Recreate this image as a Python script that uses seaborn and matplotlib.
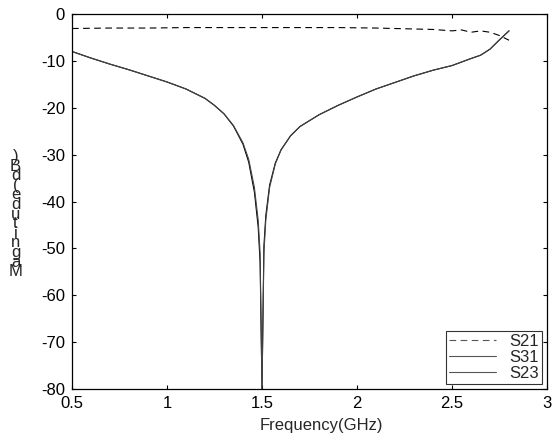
import numpy as np
import pandas as pd
import seaborn as sns
import matplotlib
matplotlib.use("Agg")
import matplotlib.pyplot as plt

# values
freq_s21 = [0.5, 0.7, 0.9, 1.1, 1.3, 1.5, 1.7, 1.9, 2.1, 2.3, 2.4, 2.5, 2.55, 2.6, 2.65, 2.7, 2.75, 2.8]
s21 = [-3.1, -3.0, -3.0, -2.9, -2.9, -2.9, -2.9, -2.9, -3.0, -3.2, -3.3, -3.6, -3.4, -3.9, -3.6, -3.9, -4.6, -5.6]

freq_s23 = [0.5, 0.6, 0.7, 0.8, 0.9, 1.0, 1.1, 1.2, 1.25, 1.3, 1.35, 1.4, 1.43, 1.46, 1.48,
            1.49, 1.5, 1.51, 1.52, 1.54, 1.57, 1.6, 1.65, 1.7, 1.8, 1.9, 2.0, 2.1, 2.2, 2.3,
            2.4, 2.5, 2.6, 2.65, 2.7, 2.75, 2.8]
s23 = [-8.0, -9.4, -10.7, -11.9, -13.2, -14.5, -16.0, -18.0, -19.5, -21.3, -23.8, -27.5, -31.0,
       -37.0, -44.0, -51.0, -80.0, -51.0, -44.0, -37.0, -32.0, -29.0, -26.0, -24.0, -21.5,
       -19.5, -17.7, -16.0, -14.6, -13.2, -12.0, -11.0, -9.5, -8.8, -7.5, -5.5, -3.6]
s31 = [-8.0, -9.4, -10.7, -11.9, -13.2, -14.5, -16.0, -18.0, -19.5, -21.3, -23.9, -27.8, -31.6,
       -38.0, -45.5, -53.0, -80.0, -49.5, -43.0, -36.5, -31.8, -29.0, -26.0, -24.0, -21.5,
       -19.5, -17.7, -16.0, -14.6, -13.2, -12.0, -11.0, -9.5, -8.8, -7.5, -5.5, -3.6]

sns.set_theme(style="ticks")
plt.rcParams["font.family"] = ["Liberation Sans", "DejaVu Sans"]
plt.rcParams["axes.unicode_minus"] = False

fig = plt.figure(figsize=(5.52, 4.37), dpi=100)
ax = fig.add_axes([0.1304, 0.1098, 0.8606, 0.8582])

sns.lineplot(x=freq_s21, y=s21, ax=ax, color="black", lw=0.8, label="S21", linestyle=(0, (6, 4)))
sns.lineplot(x=freq_s23, y=s31, ax=ax, color="black", lw=0.8, label="S31")
sns.lineplot(x=freq_s23, y=s23, ax=ax, color="#444444", lw=0.8, label="S23")

ax.set_xlim(0.5, 3)
ax.set_ylim(-80, 0)
ax.set_xticks([0.5, 1, 1.5, 2, 2.5, 3])
ax.set_xticklabels(["0.5", "1", "1.5", "2", "2.5", "3"])
ax.set_yticks(range(-80, 1, 10))
ax.tick_params(direction="in", top=True, right=True, labelsize=12, length=3, width=0.8, colors="black", pad=5)
for sp in ax.spines.values():
    sp.set_linewidth(0.9)
    sp.set_color("black")
ax.set_xlabel("Frequency(GHz)", fontsize=12)
ax.xaxis.set_label_coords(0.525, -0.077, transform=ax.transAxes)
ax.xaxis.label.set_va("top")
ax.set_ylabel("")

# garbled stacked y label as in the reference
label = "Magnitude(dB)"
fig.text(0.028, 0.51, "\n".join(reversed(label)), fontsize=12, ha="center", va="center", linespacing=0.55)

leg = ax.legend(loc="lower right", fontsize=12, frameon=True, fancybox=False, borderaxespad=0.3,
                handlelength=2.8, labelspacing=0.05, borderpad=0.2, handletextpad=0.8)
leg.get_frame().set_edgecolor("black")
leg.get_frame().set_linewidth(0.8)
for h in leg.get_lines():
    h.set_color("#555555")

fig.savefig("out.png", dpi=100)
